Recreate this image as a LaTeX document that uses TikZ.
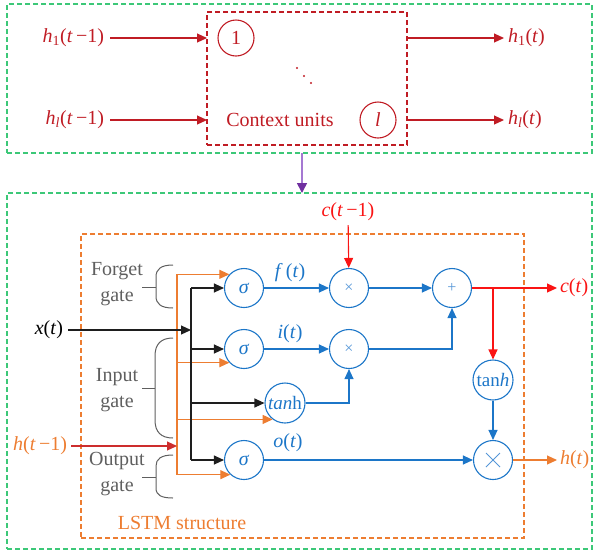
\documentclass[tikz,border=0pt]{standalone}
\usepackage{fontspec}
\setmainfont{Liberation Serif}
\usetikzlibrary{arrows.meta}
\definecolor{ctxred}{RGB}{192,28,36}
\definecolor{cellred}{RGB}{250,20,20}
\definecolor{gateblue}{RGB}{28,118,200}
\definecolor{opblue}{RGB}{85,150,215}
\definecolor{lstmorange}{RGB}{237,125,49}
\definecolor{framegreen}{RGB}{60,200,120}
\definecolor{linkpurple}{RGB}{112,48,160}
\definecolor{linklight}{RGB}{165,120,210}
\definecolor{bracegray}{RGB}{95,95,95}
\definecolor{wire}{RGB}{30,30,30}
\definecolor{histred}{RGB}{205,45,45}
\tikzset{
  txt/.style={font=\fontsize{20}{26}\selectfont, inner sep=0pt, outer sep=0pt},
  tip/.style={-{Triangle[length=10pt,width=9pt]}},
  ln/.style={line width=1.1pt},
  unitc/.style={circle, draw=ctxred, ln, minimum size=36pt, inner sep=0pt,
    text=ctxred, font=\fontsize{20}{24}\selectfont},
  gatec/.style={circle, draw=gateblue, ln, minimum size=39pt, inner sep=0pt,
    text=gateblue, font=\fontsize{20}{24}\selectfont},
  opc/.style={gatec, text=opblue, font=\fontsize{16}{18}\selectfont},
  dbox/.style={draw=#1, ln, dash pattern=on 5pt off 3pt, inner sep=0pt, outer sep=0pt},
  brace/.style={draw=bracegray, line width=1pt},
  gatetxt/.style={txt, text=bracegray, align=center, font=\fontsize{20}{26}\selectfont}
}
\begin{document}
\begin{tikzpicture}[x=1pt,y=-1pt]
\useasboundingbox (0,0) rectangle (594,550);

% ---------- context layer ----------
\node[dbox=framegreen, minimum width=585pt, minimum height=149pt] (gtop) at (299.5,78.5) {};
\node[dbox=ctxred, minimum width=200pt, minimum height=133pt] (ctx) at (307,78.5) {};
\node[unitc] (c1) at (236,38) {1};
\node[unitc] (cl) at (378,120) {\textit{l}};
\node[txt, text=ctxred] (ctxlbl) at (280,120) {Context units};
\fill[ctxred] (297,68) circle (1.2pt) (304,76) circle (1.2pt) (311,83) circle (1.2pt);

\node[txt, text=ctxred, anchor=east] (hin1) at (104,38) {\textit{h}\textsubscript{1}(\textit{t}\,−1)};
\node[txt, text=ctxred, anchor=east] (hinl) at (104,120) {\textit{h}\textsubscript{\textit{l}}(\textit{t}\,−1)};
\node[txt, text=ctxred, anchor=west] (hout1) at (508,38) {\textit{h}\textsubscript{1}(\textit{t})};
\node[txt, text=ctxred, anchor=west] (houtl) at (508,120) {\textit{h}\textsubscript{\textit{l}}(\textit{t})};

\draw[ctxred, ln, tip, shorten <=6pt] (hin1.east) -- (c1 -| ctx.west);
\draw[ctxred, ln, tip, shorten <=6pt] (hinl.east) -- (cl -| ctx.west);
\draw[ctxred, ln, tip, shorten >=4pt] (c1 -| ctx.east) -- (hout1.west);
\draw[ctxred, ln, tip, shorten >=4pt] (cl -| ctx.east) -- (houtl.west);

% ---------- LSTM layer ----------
\node[dbox=framegreen, minimum width=585pt, minimum height=356pt] (gbot) at (299.5,371) {};
\coordinate (pa) at (302,153);
\draw[linklight, line width=1.6pt, -{Triangle[length=10pt,width=10pt,color=linkpurple]}] (pa) -- (pa |- gbot.north);

\node[dbox=lstmorange, minimum width=443pt, minimum height=304pt] (cell) at (302.5,386) {};
\node[txt, text=lstmorange] (celllbl) at (182,523) {LSTM structure};

% gates and operators
\node[gatec] (s1) at (244,288) {\textit{σ}};
\node[gatec] (s2) at (244,349) {\textit{σ}};
\node[gatec, minimum size=40pt, font=\fontsize{19}{22}\selectfont] (t1) at (285,403) {\textit{tan}h};
\node[gatec] (s3) at (244,460) {\textit{σ}};
\node[opc] (m1) at (349,288) {×};
\node[opc] (pl) at (452,288) {+};
\node[opc] (m2) at (349,349) {×};
\node[gatec, minimum size=40pt, font=\fontsize{19}{22}\selectfont] (t2) at (493,380) {tan\textit{h}};
\node[gatec] (m3) at (493,460) {};
\draw[opblue, line width=0.8pt] ([shift={(-7pt,-7pt)}]m3.center) -- ([shift={(7pt,7pt)}]m3.center)
  ([shift={(-7pt,7pt)}]m3.center) -- ([shift={(7pt,-7pt)}]m3.center);

% inputs and outputs
\node[txt, anchor=east] (xt) at (63,330) {\textit{x}(\textit{t})};
\node[txt, text=lstmorange, anchor=east] (hprev) at (67,446) {\textit{h}(\textit{t}\,−1)};
\node[txt, text=cellred] (cprev) at (348,212) {\textit{c}(\textit{t}\,−1)};
\node[txt, text=cellred, anchor=west] (cnow) at (560,288) {\textit{c}(\textit{t})};
\node[txt, text=lstmorange, anchor=west] (hnow) at (560,460) {\textit{h}(\textit{t})};

\node[txt, text=gateblue] (ft) at (290,273) {\textit{f}\,(\textit{t})};
\node[txt, text=gateblue] (it) at (290,334) {\textit{i}(\textit{t})};
\node[txt, text=gateblue] (ot) at (288,443) {\textit{o}(\textit{t})};

% gate labels with braces
\node[gatetxt] (fg) at (117,284) {Forget\\gate};
\node[gatetxt] (ig) at (117,390) {Input\\gate};
\node[gatetxt] (og) at (117,474) {Output\\gate};
\draw[brace] (173,265) .. controls (161,265) and (156,269) .. (156,277) -- (156,296)
  .. controls (156,304) and (161,308) .. (173,308);
\draw[brace] (142,287) -- (156,287);
\draw[brace] (173,338) .. controls (161,338) and (155,344) .. (155,356) -- (155,420)
  .. controls (155,432) and (161,438) .. (173,438);
\draw[brace] (142,388) -- (155,388);
\draw[brace] (173,455) .. controls (161,455) and (156,459) .. (156,466) -- (156,488)
  .. controls (156,495) and (161,498) .. (173,498);
\draw[brace] (142,477) -- (156,477);

% input buses
\coordinate (kbus) at (191,0);
\coordinate (obus) at (177,0);
\draw[lstmorange, ln] (obus |- s1.137) -- (obus |- s3.227);
\draw[lstmorange, ln, tip] (obus |- s1.137) -- (s1.137);
\draw[lstmorange, ln, tip] (obus |- s2.223) -- (s2.223);
\draw[lstmorange, ln, tip] (obus |- t1.233) -- (t1.233);
\draw[lstmorange, ln, tip] (obus |- s3.227) -- (s3.227);
\draw[wire, ln] (kbus |- s1) -- (kbus |- s3);
\draw[wire, ln, tip] (kbus |- s1) -- (s1.west);
\draw[wire, ln, tip] (kbus |- s2) -- (s2.west);
\draw[wire, ln, tip] (kbus |- t1) -- (t1.west);
\draw[wire, ln, tip] (kbus |- s3) -- (s3.west);
\draw[wire, ln, tip, shorten <=5pt] (xt.east) -- (xt.east -| kbus);
\draw[histred, ln, tip, shorten <=4pt] (hprev.east) -- (hprev.east -| obus);

% cell data flow
\draw[gateblue, ln, tip] (s1) -- (m1);
\draw[gateblue, ln, tip] (s2) -- (m2);
\draw[gateblue, ln, tip] (m1) -- (pl);
\draw[gateblue, ln, tip] (m2.east) -| (pl.south);
\draw[gateblue, ln, tip] (t1.east) -| (m2.south);
\draw[gateblue, ln, tip] (s3) -- (m3);
\draw[gateblue, ln, tip] (t2) -- (m3);
\draw[cellred, ln, tip, shorten <=4pt] (cprev) -- (m1);
\draw[cellred, ln, tip, shorten >=3pt] (pl) -- (cnow.west);
\draw[cellred, ln, tip] (pl.east -| t2) -- (t2);
\draw[lstmorange, ln, tip, shorten >=3pt] (m3) -- (hnow.west);
\end{tikzpicture}
\end{document}
